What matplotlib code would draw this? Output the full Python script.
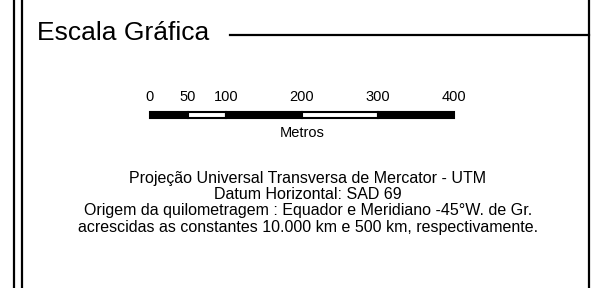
import matplotlib
matplotlib.use("Agg")
import matplotlib.pyplot as plt
import numpy as np

plt.rcParams['font.family'] = ['Liberation Sans', 'DejaVu Sans']

# scale bar values (metres)
scale_edges = [0, 50, 100, 200, 300, 400]
scale_fills = ['black', 'white', 'black', 'white', 'black']
scale_unit = 'Metros'

title = 'Escala Gráfica'
notes = [
    'Projeção Universal Transversa de Mercator - UTM',
    'Datum Horizontal: SAD 69',
    'Origem da quilometragem : Equador e Meridiano -45°W. de Gr.',
    'acrescidas as constantes 10.000 km e 500 km, respectivamente.',
]

W, H = 591, 288
fig = plt.figure(figsize=(W / 100, H / 100), dpi=100)

# background axes in pixel coordinates for frame + text
ax = fig.add_axes([0, 0, 1, 1])
ax.set_xlim(0, W)
ax.set_ylim(H, 0)
ax.axis('off')

ax.plot([14, 14], [0, H], color='black', lw=1.6)
ax.plot([22, 22], [0, H], color='black', lw=1.6)
ax.plot([589, 589], [0, H], color='black', lw=1.6)
ax.plot([230, 589], [35, 35], color='black', lw=1.6)

ax.text(37, 40, title, fontsize=19, ha='left', va='baseline')
ax.text(308, 171, '\n'.join(notes), fontsize=11.5, ha='center', va='top',
        linespacing=1.1)

# scale bar axes in metres
bx = fig.add_axes([150 / W, (H - 118) / H, (454 - 150) / W, 6 / H])
bx.set_xlim(scale_edges[0], scale_edges[-1])
bx.set_ylim(0, 1)
lefts = scale_edges[:-1]
widths = np.diff(scale_edges)
bx.bar(lefts, 1, width=widths, align='edge', color=scale_fills,
       edgecolor='black', linewidth=1.5, clip_on=False)
bx.set_yticks([])
for s in bx.spines.values():
    s.set_visible(False)
bx.xaxis.tick_top()
bx.set_xticks(scale_edges)
bx.set_xticklabels([str(v) for v in scale_edges], fontsize=10.5)
bx.tick_params(axis='x', length=0, pad=6)
bx.xaxis.set_label_position('bottom')
bx.set_xlabel(scale_unit, fontsize=10.5, labelpad=6)

fig.savefig('out.png', dpi=100)
